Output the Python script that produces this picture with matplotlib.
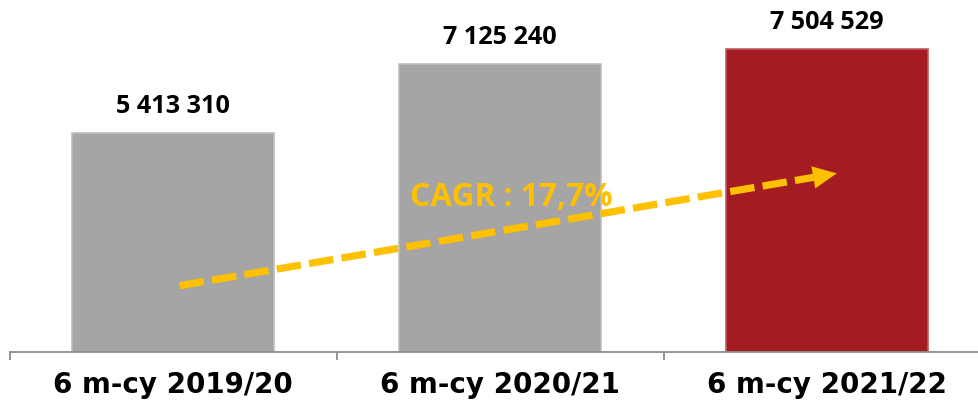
import matplotlib
matplotlib.use("Agg")
import matplotlib.pyplot as plt

categories = ["6 m-cy 2019/20", "6 m-cy 2020/21", "6 m-cy 2021/22"]
values = [5413310, 7125240, 7504529]
value_labels = ["5 413 310", "7 125 240", "7 504 529"]
cagr_text = "CAGR : 17,7%"

bar_colors = ["#A5A5A5", "#A5A5A5", "#A21C21"]
edge_colors = ["#BDBDBD", "#BDBDBD", "#C05A5D"]
arrow_color = "#FFC000"

fig = plt.figure(figsize=(9.79, 4.03), dpi=100)
ax = fig.add_axes([9.5 / 979, 1 - 352 / 403, 981 / 979, 352 / 403])

x = range(len(categories))
ax.bar(x, values, width=0.62, color=bar_colors, edgecolor=edge_colors, linewidth=1.2)

for xi, v, lbl in zip(x, values, value_labels):
    ax.text(xi, v + 660000, lbl, ha="center", va="center",
            fontsize=18.2, fontweight="bold", family="Open Sans", color="#000000")

ax.set_xlim(-0.5, 2.5)
ax.set_ylim(0, 8710000)

# dashed trend arrow across the bars
x0, y0 = 0.02, 1640000
x1, y1 = 2.03, 4420000
fx = 0.965
ax.plot([x0, x0 + (x1 - x0) * fx], [y0, y0 + (y1 - y0) * fx], color=arrow_color,
        lw=5.2, dashes=(3.4, 1.15), solid_capstyle="butt", dash_capstyle="butt", zorder=3)
hx = x0 + (x1 - x0) * 0.94
hy = y0 + (y1 - y0) * 0.94
ax.annotate("", xy=(x1, y1), xytext=(hx, hy),
            arrowprops=dict(arrowstyle="-|>,head_length=1.7,head_width=0.8",
                            color=arrow_color, lw=0.1, shrinkA=0, shrinkB=0), zorder=4)
ax.text(0.725, 3820000, cagr_text, ha="left", va="center", fontsize=22.8,
        fontweight="bold", family="Open Sans", color=arrow_color, zorder=5)

for s in ["top", "right", "left"]:
    ax.spines[s].set_visible(False)
ax.spines["bottom"].set_color("#8C8C8C")
ax.spines["bottom"].set_linewidth(1.3)
ax.set_yticks([])
ax.set_xticks([-0.5, 0.5, 1.5, 2.5])
ax.set_xticklabels([])
ax.set_xticks(list(x), minor=True)
ax.set_xticklabels(categories, minor=True, fontsize=20, fontweight="bold",
                   family="DejaVu Sans")
ax.tick_params(axis="x", which="major", direction="out", length=6, width=1.3,
               color="#8C8C8C")
ax.tick_params(axis="x", which="minor", length=0, pad=14)

fig.savefig("out.png", dpi=100)
